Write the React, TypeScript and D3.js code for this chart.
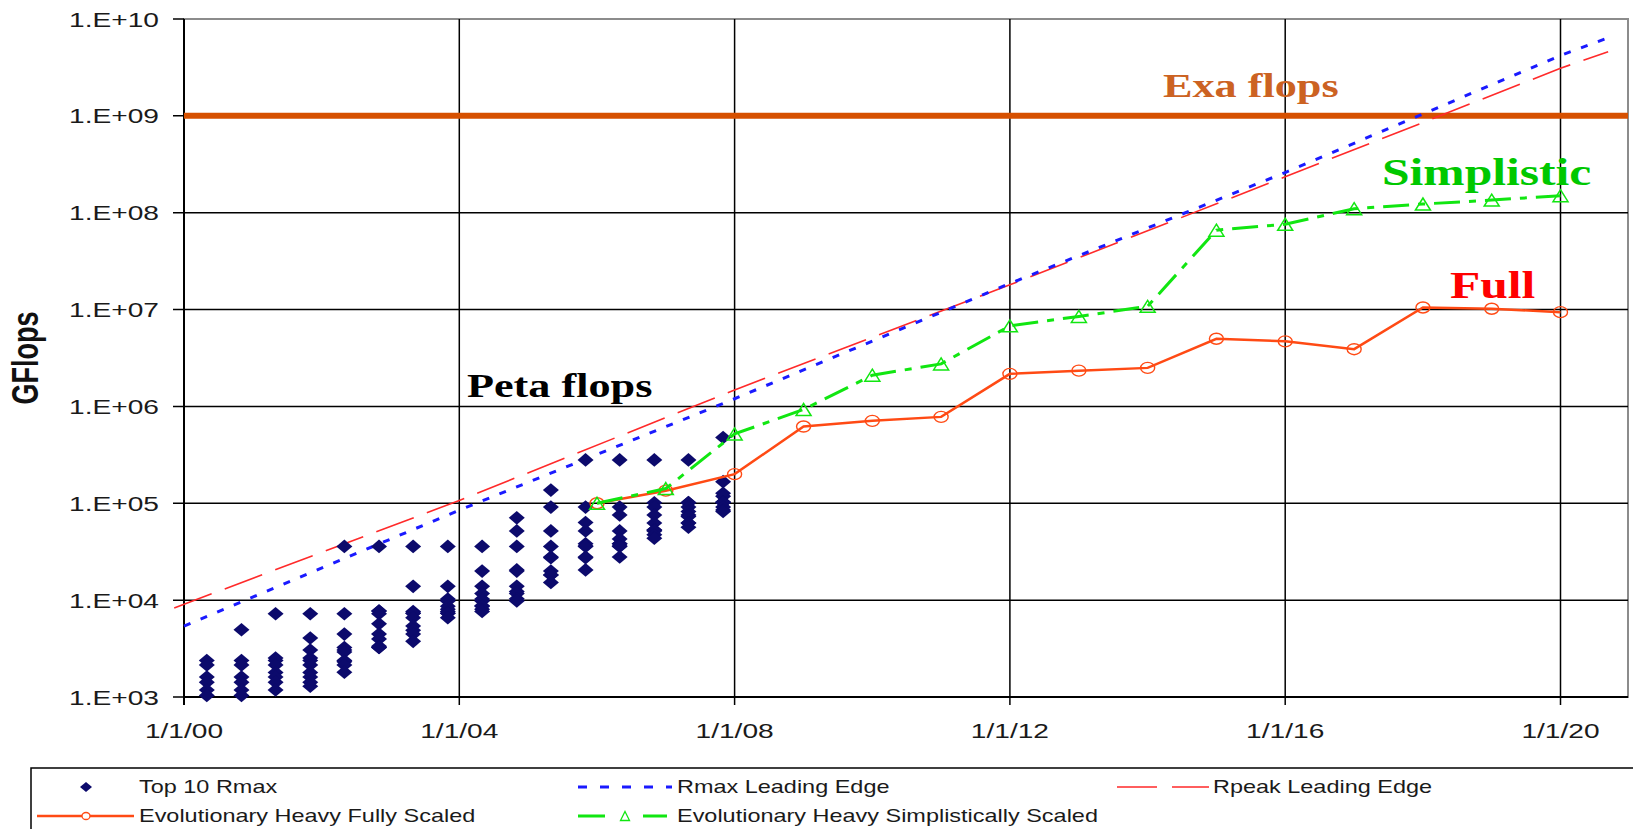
import React from 'react';
import * as d3 from 'd3';

// ---- data ----
const listDates = [
  '2000-05-01', '2000-11-01', '2001-05-01', '2001-11-01', '2002-05-01', '2002-11-01',
  '2003-05-01', '2003-11-01', '2004-05-01', '2004-11-01', '2005-05-01', '2005-11-01',
  '2006-05-01', '2006-11-01', '2007-05-01', '2007-11-01',
];

// top 10 Rmax of each list (GFlops), only the ones above 1.E+03
const top10Rmax = [
  [2379, 2144, 1608, 1417, 1179, 1035],
  [4938, 2379, 2144, 1608, 1417, 1179, 1035],
  [7226, 2526, 2379, 2144, 1791, 1608, 1417, 1179],
  [7226, 4059, 3052, 2526, 2379, 2144, 1791, 1608, 1417, 1293],
  [35860, 7226, 4463, 3241, 3052, 2916, 2379, 2310, 2144, 1800],
  [35860, 7727, 7727, 7226, 5694, 4463, 3980, 3337, 3241, 3241],
  [35860, 13880, 7634, 7304, 7304, 6586, 5406, 4881, 4463, 3755],
  [35860, 13880, 10280, 9819, 8633, 8051, 7634, 7304, 7304, 6586],
  [35860, 19940, 13880, 11680, 10280, 9819, 8738, 8633, 8051, 7634],
  [70720, 51870, 35860, 20530, 19940, 13880, 12250, 11680, 10310, 9819],
  [136800, 91290, 51870, 35860, 27910, 27450, 19940, 18200, 18200, 15250],
  [280600, 91290, 63390, 51870, 38270, 36190, 35860, 27910, 27450, 20527],
  [280600, 91290, 75760, 51870, 42900, 38270, 38180, 36190, 35860, 27910],
  [280600, 101400, 91290, 75760, 62630, 53000, 52840, 51870, 47380, 43480],
  [280600, 101700, 101400, 91290, 82161, 75760, 73032, 62680, 62630, 56520],
  [478200, 167300, 126900, 117900, 102800, 102200, 101700, 91290, 85370, 82161],
];

const projDates = [
  '2006-01-01', '2007-01-01', '2008-01-01', '2009-01-01', '2010-01-01',
  '2011-01-01', '2012-01-01', '2013-01-01', '2014-01-01', '2015-01-01',
  '2016-01-01', '2017-01-01', '2018-01-01', '2019-01-01', '2020-01-01',
];
const fullyScaled = [
  1.0e5, 1.35e5, 2.0e5, 6.2e5, 7.1e5, 7.8e5, 2.17e6, 2.34e6, 2.5e6, 5.0e6,
  4.7e6, 3.9e6, 1.05e7, 1.02e7, 9.4e6,
];
const simplisticScaled = [
  1.0e5, 1.42e5, 5.2e5, 9.3e5, 2.1e6, 2.75e6, 6.8e6, 8.5e6, 1.08e7, 6.6e7,
  7.6e7, 1.1e8, 1.23e8, 1.35e8, 1.5e8,
];

const rmaxEdgeDates = ['2000-01-01', '2004-01-01', '2008-01-01', '2012-01-01', '2016-01-01', '2020-01-01', '2020-09-01'];
const rmaxEdge = [5.4e3, 8.5e4, 1.2e6, 1.86e7, 2.6e8, 4.2e9, 6.3e9];
const rpeakEdgeDates = ['1999-11-10', '2004-01-01', '2008-01-01', '2012-01-01', '2016-01-01', '2020-01-01', '2020-09-10'];
const rpeakEdge = [8.3e3, 1.07e5, 1.48e6, 1.8e7, 2.35e8, 3.1e9, 4.6e9];

const exaLevel = 1e9;

const yTicks = [1e3, 1e4, 1e5, 1e6, 1e7, 1e8, 1e9, 1e10];
const yTickLabels = ['1.E+03', '1.E+04', '1.E+05', '1.E+06', '1.E+07', '1.E+08', '1.E+09', '1.E+10'];
const xTicks = ['2000-01-01', '2004-01-01', '2008-01-01', '2012-01-01', '2016-01-01', '2020-01-01'];
const xTickLabels = ['1/1/00', '1/1/04', '1/1/08', '1/1/12', '1/1/16', '1/1/20'];

// ---- layout ----
const W = 1633;
const H = 829;
const plot = { left: 184, right: 1628, top: 19, bottom: 697 };
const SX = 1.34; // the picture is stretched sideways
const SANS = '"Liberation Sans", Arial, sans-serif';
const SERIF = '"Liberation Serif", "Times New Roman", serif';

const parse = d3.timeParse('%Y-%m-%d');
const pd = (s: string) => parse(s) as Date;

const x = d3.scaleTime()
  .domain([pd('2000-01-01'), pd('2020-01-01')])
  .range([plot.left, 1560.5]);

const y = d3.scaleLog()
  .domain([1e3, 1e10])
  .range([plot.bottom, plot.top]);

const COLORS = {
  scatter: '#0c0a6c',
  rmax: '#1a1aff',
  rpeak: '#ff2a2a',
  full: '#ff4a14',
  simple: '#11e611',
  exa: '#d65000',
  exaText: '#cc6222',
  simpleText: '#00c800',
  fullText: '#ff0000',
};

type TProps = {
  x: number; y: number; size: number; anchor?: string; fill?: string;
  family?: string; weight?: string; rotate?: number; dy?: string; children: React.ReactNode;
};
const T = ({ x, y, size, anchor = 'start', fill = '#000', family = SANS, weight = 'normal', rotate = 0, dy, children }: TProps) => (
  <text
    transform={`translate(${x},${y}) scale(${SX},1)${rotate ? ` rotate(${rotate})` : ''}`}
    textAnchor={anchor}
    fontSize={size}
    fill={fill}
    fontFamily={family}
    fontWeight={weight}
    dy={dy}
  >
    {children}
  </text>
);

const diamond = (cx: number, cy: number, hw: number, hh: number) =>
  `M${cx},${cy - hh}L${cx + hw},${cy}L${cx},${cy + hh}L${cx - hw},${cy}Z`;
const triangle = (cx: number, cy: number, hw: number, hh: number) =>
  `M${cx},${cy - hh}L${cx + hw},${cy + hh}L${cx - hw},${cy + hh}Z`;

export default function App() {
  const line = d3.line<[Date, number]>().x(d => x(d[0])).y(d => y(d[1]));

  const rmaxPts = rmaxEdgeDates.map((d, i) => [pd(d), rmaxEdge[i]] as [Date, number]);
  const rpeakPts = rpeakEdgeDates.map((d, i) => [pd(d), rpeakEdge[i]] as [Date, number]);
  const fullPts = projDates.map((d, i) => [pd(d), fullyScaled[i]] as [Date, number]);
  const simplePts = projDates.map((d, i) => [pd(d), simplisticScaled[i]] as [Date, number]);

  const scatter = listDates.flatMap((d, i) => top10Rmax[i].map(v => [pd(d), v] as [Date, number]));

  const legY1 = 787;
  const legY2 = 816;

  return (
    <svg width={W} height={H} style={{ position: 'absolute', left: 0, top: 0, background: '#fff' }}>
      <rect x={0} y={0} width={W} height={H} fill="#fff" />

      {/* plot frame */}
      <rect x={plot.left} y={plot.top} width={plot.right - plot.left} height={plot.bottom - plot.top}
        fill="none" stroke="#8c8c8c" strokeWidth={2} />

      {/* horizontal grid + y ticks */}
      {yTicks.map((t, i) => (
        <g key={`y${i}`}>
          <line x1={plot.left - 11} x2={i === yTicks.length - 1 ? plot.left : plot.right} y1={y(t)} y2={y(t)}
            stroke="#000" strokeWidth={1.5} />
          <T x={159} y={y(t)} size={21} anchor="end" dy="0.36em" fill="#1a1a1a">{yTickLabels[i]}</T>
        </g>
      ))}

      {/* vertical grid + x ticks */}
      {xTicks.map((t, i) => (
        <g key={`x${i}`}>
          <line x1={x(pd(t))} x2={x(pd(t))} y1={plot.top} y2={plot.bottom + 8} stroke="#000" strokeWidth={1.5} />
          <T x={x(pd(t))} y={730} size={21} anchor="middle" dy="0.36em" fill="#1a1a1a">{xTickLabels[i]}</T>
        </g>
      ))}
      <line x1={plot.left} x2={plot.left} y1={plot.top} y2={plot.bottom + 8} stroke="#000" strokeWidth={2} />
      <line x1={plot.left} x2={plot.right} y1={plot.bottom} y2={plot.bottom} stroke="#000" strokeWidth={2} />

      {/* Exa flops level */}
      <line x1={plot.left} x2={plot.right} y1={y(exaLevel)} y2={y(exaLevel)} stroke={COLORS.exa} strokeWidth={6} />

      {/* leading edges */}
      <path d={line(rpeakPts) || ''} fill="none" stroke={COLORS.rpeak} strokeWidth={1.6} strokeDasharray="40,14" />
      <path d={line(rmaxPts) || ''} fill="none" stroke={COLORS.rmax} strokeWidth={3} strokeDasharray="7,11" />

      {/* top 10 Rmax */}
      {scatter.map((p, i) => (
        <path key={`s${i}`} d={diamond(x(p[0]), y(p[1]), 8, 6.8)} fill={COLORS.scatter} />
      ))}

      {/* evolutionary heavy fully scaled */}
      <path d={line(fullPts) || ''} fill="none" stroke={COLORS.full} strokeWidth={2.5} />
      {fullPts.map((p, i) => (
        <ellipse key={`f${i}`} cx={x(p[0])} cy={y(p[1])} rx={7} ry={5.5} fill="none" stroke={COLORS.full} strokeWidth={1.4} />
      ))}

      {/* evolutionary heavy simplistically scaled */}
      <path d={line(simplePts) || ''} fill="none" stroke={COLORS.simple} strokeWidth={3} strokeDasharray="26,9,7,9" />
      {simplePts.map((p, i) => (
        <path key={`g${i}`} d={triangle(x(p[0]), y(p[1]), 7.5, 6)} fill="none" stroke={COLORS.simple} strokeWidth={1.5} />
      ))}

      {/* annotations */}
      <T x={467} y={397} size={33} family={SERIF} weight="bold">Peta flops</T>
      <T x={1163} y={97} size={33} family={SERIF} weight="bold" fill={COLORS.exaText}>Exa flops</T>
      <T x={1382} y={185} size={37} family={SERIF} weight="bold" fill={COLORS.simpleText}>Simplistic</T>
      <T x={1450} y={298} size={37} family={SERIF} weight="bold" fill={COLORS.fullText}>Full</T>

      {/* y axis title */}
      <T x={25} y={358} size={27} anchor="middle" weight="bold" rotate={-90} dy="0.35em" fill="#111">GFlops</T>

      {/* legend */}
      <rect x={31} y={768} width={1650} height={120} fill="none" stroke="#000" strokeWidth={1.5} />
      <path d={diamond(86, legY1, 6, 5)} fill={COLORS.scatter} />
      <T x={139} y={legY1} size={17.5} dy="0.36em" fill="#1a1a1a">Top 10 Rmax</T>
      <line x1={578} x2={672} y1={legY1} y2={legY1} stroke={COLORS.rmax} strokeWidth={3} strokeDasharray="9,13" />
      <T x={677} y={legY1} size={17.5} dy="0.36em" fill="#1a1a1a">Rmax Leading Edge</T>
      <line x1={1117} x2={1209} y1={legY1} y2={legY1} stroke={COLORS.rpeak} strokeWidth={1.6} strokeDasharray="40,15" />
      <T x={1213} y={legY1} size={17.5} dy="0.36em" fill="#1a1a1a">Rpeak Leading Edge</T>

      <line x1={37} x2={134} y1={legY2} y2={legY2} stroke={COLORS.full} strokeWidth={2.5} />
      <ellipse cx={86} cy={legY2} rx={4} ry={3.5} fill="#fff" stroke={COLORS.full} strokeWidth={1.3} />
      <T x={139} y={legY2} size={17.5} dy="0.36em" fill="#1a1a1a">Evolutionary Heavy Fully Scaled</T>
      <line x1={578} x2={667} y1={legY2} y2={legY2} stroke={COLORS.simple} strokeWidth={3} strokeDasharray="27,38" />
      <path d={triangle(625, legY2, 4.5, 4.5)} fill="none" stroke={COLORS.simple} strokeWidth={1.3} />
      <T x={677} y={legY2} size={17.5} dy="0.36em" fill="#1a1a1a">Evolutionary Heavy Simplistically Scaled</T>
    </svg>
  );
}
